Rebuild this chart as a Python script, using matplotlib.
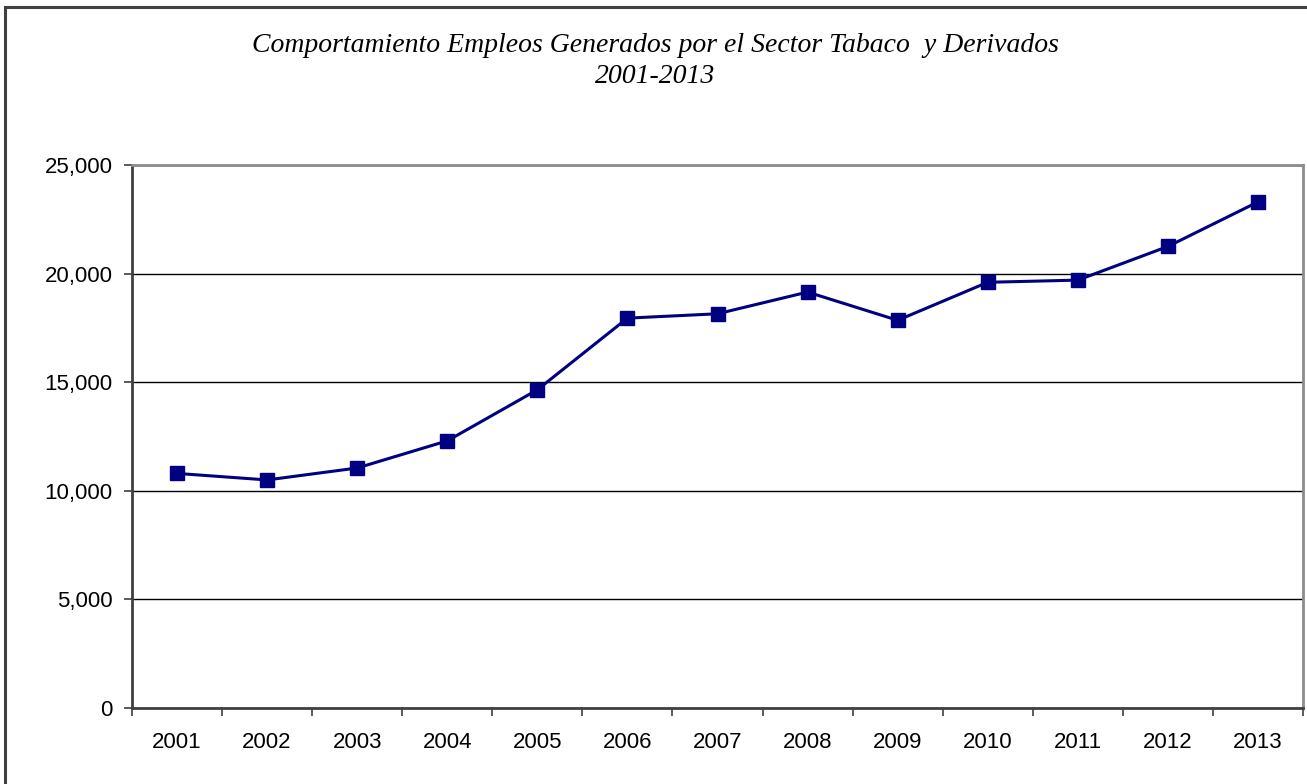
import matplotlib.pyplot as plt
import matplotlib.patches as mpatches
from matplotlib.ticker import FuncFormatter, FixedLocator, NullFormatter, FixedFormatter

years = ["2001", "2002", "2003", "2004", "2005", "2006", "2007",
         "2008", "2009", "2010", "2011", "2012", "2013"]
empleos = [10800, 10500, 11050, 12300, 14650, 17950, 18150,
           19150, 17850, 19600, 19700, 21250, 23300]
y_ticks = [0, 5000, 10000, 15000, 20000, 25000]

title = ("Comportamiento Empleos Generados por el Sector Tabaco  y Derivados\n"
         "2001-2013")

W, H = 1307, 784
fig = plt.figure(figsize=(W / 100, H / 100), dpi=100)

# outer chart frame (runs off the right/bottom edge)
fig.patches.append(mpatches.Rectangle((5 / W, -0.05), 1.2, 1 - 7 / H + 0.05,
                                      transform=fig.transFigure, fill=False,
                                      edgecolor="#404040", linewidth=2.2))
# caption above the frame, mostly cropped in the source image
fig.text(8 / W, 1.0 + 5 / H, "Gráfico 13", color="#3333ff", fontsize=14,
         fontweight="bold", family="Liberation Sans", va="center", ha="left")

left, right, top, bottom = 132, 1303, 165, 708
ax = fig.add_axes([left / W, 1 - bottom / H, (right - left) / W, (bottom - top) / H])

x = list(range(len(years)))
ax.plot(x, empleos, color="#000080", linewidth=2.2, marker="s",
        markersize=10, markerfacecolor="#000080", markeredgecolor="#000080",
        zorder=3)

ax.set_xlim(-0.5, len(years) - 0.5)
ax.set_ylim(0, 25000)

ax.yaxis.set_major_locator(FixedLocator(y_ticks))
ax.yaxis.set_major_formatter(FuncFormatter(lambda v, p: f"{int(v):,}"))
ax.grid(axis="y", color="black", linewidth=1.0, zorder=1)

ax.xaxis.set_major_locator(FixedLocator([i - 0.5 for i in range(len(years) + 1)]))
ax.xaxis.set_major_formatter(NullFormatter())
ax.xaxis.set_minor_locator(FixedLocator(x))
ax.xaxis.set_minor_formatter(FixedFormatter(years))
ax.tick_params(axis="x", which="minor", length=0, pad=17, labelsize=16)
ax.tick_params(axis="x", which="major", length=6, width=1.2, color="#404040",
               direction="out")
ax.tick_params(axis="y", length=6, width=1.2, color="#404040", direction="out",
               labelsize=16, pad=8)
for lbl in ax.get_xticklabels(minor=True) + ax.get_yticklabels():
    lbl.set_family("Liberation Sans")

ax.spines["left"].set_color("#404040")
ax.spines["left"].set_linewidth(2)
ax.spines["bottom"].set_color("#404040")
ax.spines["bottom"].set_linewidth(2)
ax.spines["top"].set_color("#8c8c8c")
ax.spines["top"].set_linewidth(2)
ax.spines["right"].set_color("#8c8c8c")
ax.spines["right"].set_linewidth(2)

fig.text(655 / W, 1 - 61 / H, title, ha="center", va="center",
         family="Liberation Serif", style="italic", fontsize=20,
         linespacing=1.35)

fig.savefig("out.png", dpi=100)
